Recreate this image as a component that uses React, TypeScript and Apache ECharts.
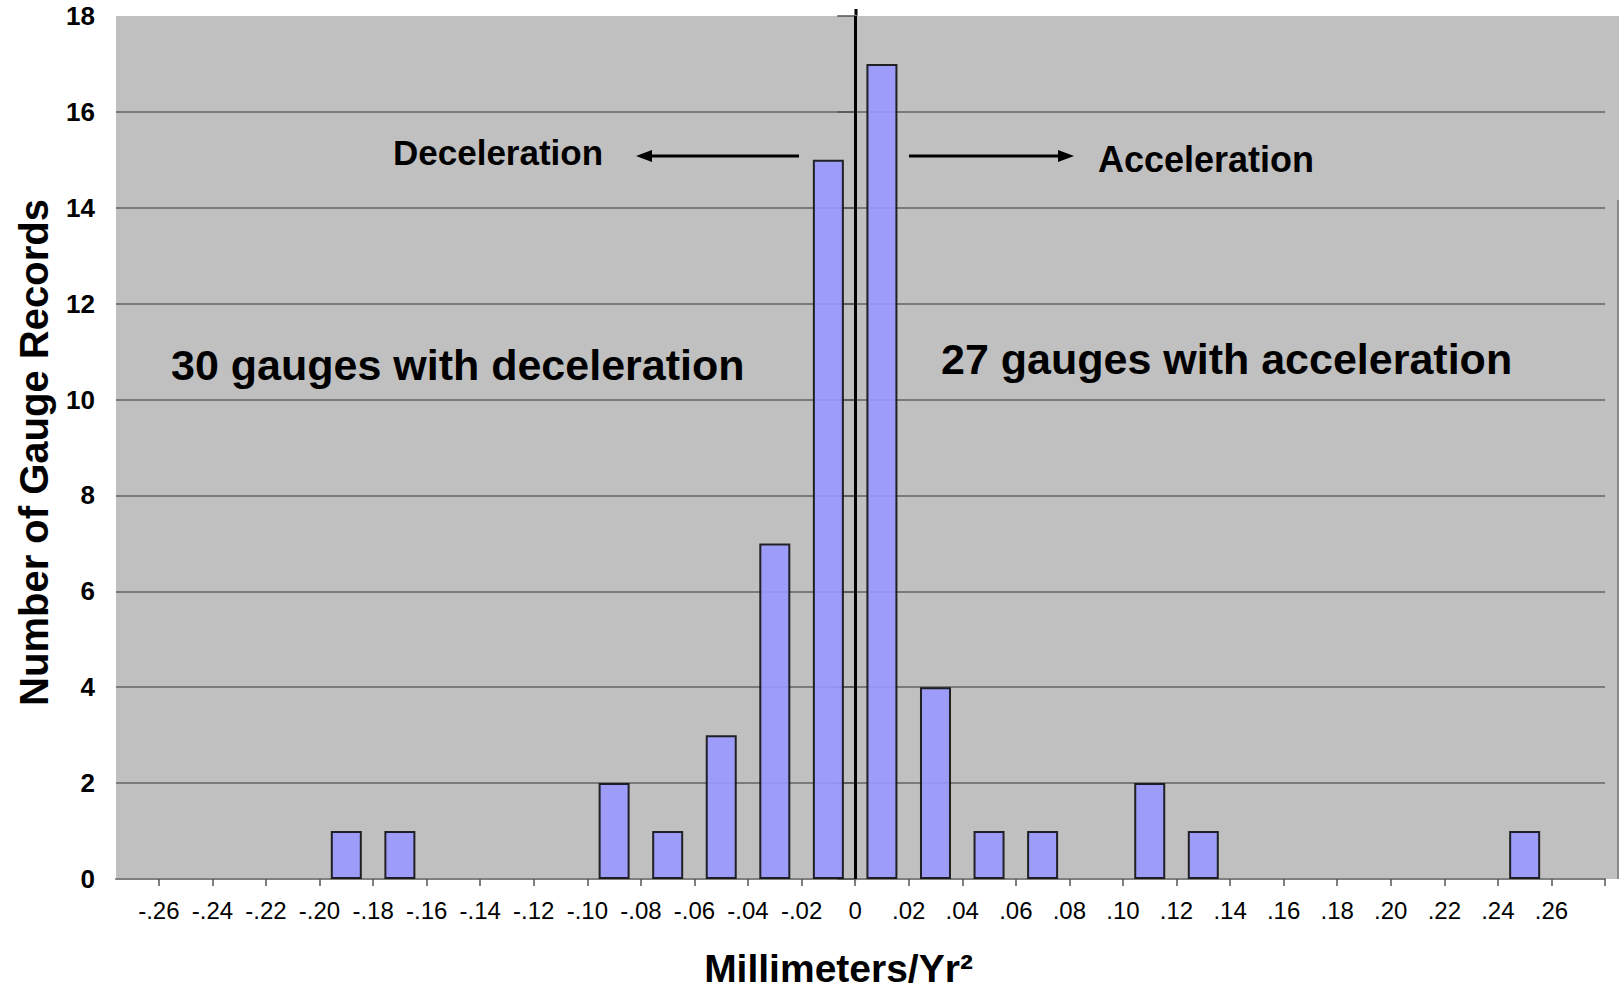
import React, { useEffect, useRef } from "react";
import * as echarts from "echarts";

// Histogram bins (bin centre, Millimeters/Yr^2) and number of gauge records
const binCenters = [-0.19, -0.17, -0.09, -0.07, -0.05, -0.03, -0.01, 0.01, 0.03, 0.05, 0.07, 0.11, 0.13, 0.25];
const gaugeCounts = [1, 1, 2, 1, 3, 7, 15, 17, 4, 1, 1, 2, 1, 1];

// X tick values and their printed labels
const xTickValues = [
  -0.26, -0.24, -0.22, -0.2, -0.18, -0.16, -0.14, -0.12, -0.1, -0.08, -0.06, -0.04, -0.02, 0,
  0.02, 0.04, 0.06, 0.08, 0.1, 0.12, 0.14, 0.16, 0.18, 0.2, 0.22, 0.24, 0.26,
];
const xTickLabels = [
  "-.26", "-.24", "-.22", "-.20", "-.18", "-.16", "-.14", "-.12", "-.10", "-.08", "-.06", "-.04", "-.02", "0",
  ".02", ".04", ".06", ".08", ".10", ".12", ".14", ".16", ".18", ".20", ".22", ".24", ".26",
];
const xTickMarks = [...xTickValues, 0.28];
const yTickLabels = ["0", "2", "4", "6", "8", "10", "12", "14", "16", "18"];

const FONT = "'Liberation Sans', Arial, Helvetica, sans-serif";

export default function App() {
  const ref = useRef<HTMLDivElement>(null);
  useEffect(() => {
    if (!ref.current) return;
    const chart = echarts.init(ref.current, null, { renderer: "svg" });
    const option: any = {
      animation: false,
      backgroundColor: "#ffffff",
      textStyle: { fontFamily: FONT },
      grid: {
        left: 116,
        right: 17,
        top: 16,
        bottom: 115,
        show: true,
        backgroundColor: "#c0c0c0",
        borderWidth: 0,
        containLabel: false,
        outerBoundsMode: "none",
      },
      xAxis: {
        type: "value",
        min: -0.276,
        max: 0.28,
        name: "Millimeters/Yr²",
        nameLocation: "middle",
        nameGap: 70,
        nameTextStyle: {
          fontFamily: FONT,
          fontWeight: "bold",
          fontSize: 39,
          lineHeight: 39,
          color: "#000",
          padding: [0, 44, 0, 0],
        },
        axisLine: { show: true, onZero: false, lineStyle: { color: "#808080", width: 2 } },
        axisTick: {
          show: true,
          customValues: xTickMarks,
          length: 7,
          lineStyle: { color: "#555", width: 1.5 },
        },
        axisLabel: {
          customValues: xTickValues,
          margin: 19,
          fontFamily: FONT,
          fontSize: 24,
          color: "#000",
          formatter: (v: number) => {
            const i = xTickValues.findIndex((t) => Math.abs(t - v) < 1e-6);
            return i >= 0 ? xTickLabels[i] : "";
          },
        },
        splitLine: { show: false },
      },
      yAxis: {
        type: "value",
        min: 0,
        max: 18,
        interval: 2,
        name: "Number of Gauge Records",
        nameLocation: "middle",
        nameGap: 62,
        nameRotate: 90,
        nameTextStyle: {
          fontFamily: FONT,
          fontWeight: "bold",
          fontSize: 40,
          color: "#000",
          padding: [0, 10, 0, 0],
        },
        axisLine: { show: true, lineStyle: { color: "#8a8a8a", width: 3 } },
        axisTick: { show: true, length: 18, lineStyle: { color: "#555", width: 1.5 } },
        axisLabel: {
          margin: 21,
          fontFamily: FONT,
          fontWeight: "bold",
          fontSize: 26,
          color: "#000",
          formatter: (v: number) => yTickLabels[Math.round(v / 2)] ?? String(v),
        },
        splitLine: {
          show: true,
          showMinLine: false,
          showMaxLine: false,
          lineStyle: { color: "#7a7a7a", width: 2 },
        },
      },
      series: [
        {
          type: "bar",
          data: binCenters.map((x, i) => [x, gaugeCounts[i]]),
          barWidth: 31,
          itemStyle: {
            color: "#9999ff",
            opacity: 0.9,
            borderColor: "#111",
            borderWidth: 2,
          },
          markLine: {
            silent: true,
            symbol: "none",
            label: { show: false },
            lineStyle: { color: "#000", width: 3, type: "solid" },
            data: [{ xAxis: 0 }],
          },
        },
      ],
      graphic: [
        {
          type: "rect",
          z: -1,
          shape: { x: 1605, y: 16, width: 14, height: 863 },
          style: { fill: "#c0c0c0" },
        },
        {
          type: "line",
          shape: { x1: 1618, y1: 200, x2: 1618, y2: 879 },
          style: { stroke: "#8a8a8a", lineWidth: 2 },
        },
        {
          type: "line",
          shape: { x1: 856, y1: 9, x2: 856, y2: 16 },
          style: { stroke: "#000", lineWidth: 3 },
        },
        {
          type: "text",
          x: 393,
          y: 152,
          style: {
            text: "Deceleration",
            fontFamily: FONT,
            fontWeight: "bold",
            fontSize: 35,
            fill: "#000",
            textAlign: "left",
            textVerticalAlign: "middle",
          },
        },
        {
          type: "text",
          x: 1098,
          y: 159,
          style: {
            text: "Acceleration",
            fontFamily: FONT,
            fontWeight: "bold",
            fontSize: 36,
            fill: "#000",
            textAlign: "left",
            textVerticalAlign: "middle",
          },
        },
        {
          type: "text",
          x: 171,
          y: 365,
          style: {
            text: "30 gauges with deceleration",
            fontFamily: FONT,
            fontWeight: "bold",
            fontSize: 43,
            fill: "#000",
            textAlign: "left",
            textVerticalAlign: "middle",
          },
        },
        {
          type: "text",
          x: 941,
          y: 359,
          style: {
            text: "27 gauges with acceleration",
            fontFamily: FONT,
            fontWeight: "bold",
            fontSize: 43,
            fill: "#000",
            textAlign: "left",
            textVerticalAlign: "middle",
          },
        },
        {
          type: "line",
          shape: { x1: 799, y1: 156, x2: 648, y2: 156 },
          style: { stroke: "#000", lineWidth: 3 },
        },
        {
          type: "polygon",
          shape: { points: [[636, 156], [652, 150], [652, 162]] },
          style: { fill: "#000" },
        },
        {
          type: "line",
          shape: { x1: 909, y1: 156, x2: 1061, y2: 156 },
          style: { stroke: "#000", lineWidth: 3 },
        },
        {
          type: "polygon",
          shape: { points: [[1074, 156], [1058, 150], [1058, 162]] },
          style: { fill: "#000" },
        },
      ],
    };
    chart.setOption(option);
    return () => chart.dispose();
  }, []);
  return (
    <div
      ref={ref}
      style={{ position: "fixed", left: 0, top: 0, width: 1622, height: 994, background: "#fff" }}
    />
  );
}
